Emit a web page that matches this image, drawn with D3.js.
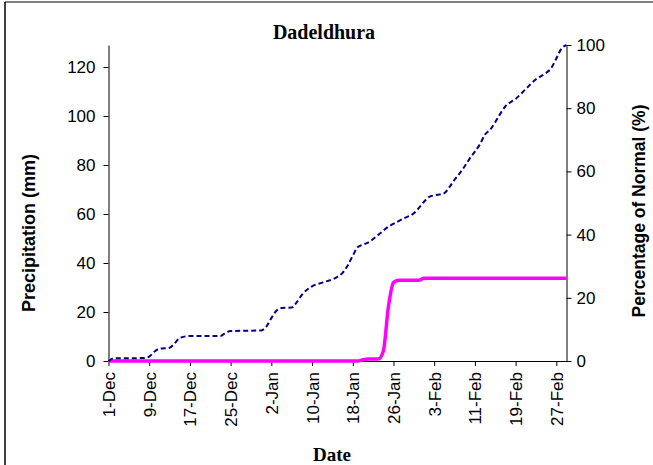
<!DOCTYPE html>
<meta charset="utf-8">
<html>
<head>
<title>Dadeldhura</title>
<script src="https://d3js.org/d3.v7.min.js"></script>
<style>
  body { margin: 0; background: #fff; }
  .tick text { font-family: "Liberation Sans", Arial, sans-serif; font-size: 17px; fill: #000; }
  .domain, .tick line { stroke: #000; }
</style>
</head>
<body>
<script>
// day index 0 = 1-Dec, 90 = 29-Feb
var tickDays = [0, 8, 16, 24, 32, 40, 48, 56, 64, 72, 80, 88];
var tickLabels = ["1-Dec", "9-Dec", "17-Dec", "25-Dec", "2-Jan", "10-Jan", "18-Jan",
                  "26-Jan", "3-Feb", "11-Feb", "19-Feb", "27-Feb"];
var leftTicks = [0, 20, 40, 60, 80, 100, 120];
var rightTicks = [0, 20, 40, 60, 80, 100];

// cumulative normal precipitation (mm)
var normalDays = [0, 1, 7, 8, 9, 10, 12, 13, 14, 16, 22, 23, 24, 30, 31, 32, 33, 34, 36, 37, 38,
                  40, 42, 45, 46, 47, 48, 49, 50, 51, 53, 55, 57, 58, 60, 61, 62, 63, 65, 66, 67,
                  68, 69, 70, 71, 72, 73, 74, 75, 76, 77, 78, 80, 82, 84, 85, 86, 87, 88, 89, 90];
var normalMm = [0, 1.1, 1.2, 1.8, 3.8, 5.0, 5.4, 7.2, 9.4, 10.2, 10.2, 11.5, 12.2, 12.5, 14, 17.5,
                20.5, 21.6, 21.8, 24, 27, 30.5, 32, 34.4, 36, 39, 43, 46.5, 47.5, 48.3, 51.5, 54.8,
                57.1, 58.2, 60.3, 62.5, 65, 67, 68, 68.5, 71, 74, 76.6, 79.5, 82.7, 85.5, 88.5,
                92.5, 94.4, 97.5, 101, 104, 107, 111, 115, 116.3, 117.6, 119.6, 123.5, 127.5, 129];

// cumulative actual precipitation (mm)
var actualDays = [0, 49, 50, 51, 53, 54, 55, 56, 57, 61, 62, 90];
var actualMm = [0, 0, 0.5, 0.8, 0.8, 4, 22, 32, 33, 33, 33.8, 33.8];

var W = 653, H = 465;
var svg = d3.select("body").append("svg").attr("width", W).attr("height", H);

// frame
svg.append("line").attr("x1", 5).attr("x2", W).attr("y1", 2).attr("y2", 2)
  .attr("stroke", "#808080").attr("stroke-width", 2);
svg.append("line").attr("x1", 5).attr("x2", 5).attr("y1", 2).attr("y2", H)
  .attr("stroke", "#000").attr("stroke-width", 1.5);

var x = d3.scaleLinear().domain([0, 90]).range([108.5, 566.5]);
var yL = d3.scaleLinear().domain([0, 129]).range([361, 45]);
var yR = d3.scaleLinear().domain([0, 100]).range([361, 45]);

// left axis
svg.append("g").attr("transform", "translate(108.5,0)")
  .call(d3.axisLeft(yL).tickValues(leftTicks).tickSize(5).tickPadding(8).tickSizeOuter(0));

// right axis
svg.append("g").attr("transform", "translate(566.5,0)")
  .call(d3.axisRight(yR).tickValues(rightTicks).tickSize(5).tickPadding(5).tickSizeOuter(0));

// x axis
var xAxis = svg.append("g").attr("transform", "translate(0,361)")
  .call(d3.axisBottom(x).tickValues(tickDays).tickSize(5).tickSizeOuter(0)
    .tickFormat(function (d, i) { return tickLabels[i]; }));
xAxis.selectAll(".tick text")
  .attr("transform", "rotate(-90)")
  .attr("text-anchor", "end")
  .attr("x", -11).attr("y", 0).attr("dy", "0.35em");

// lines
var normalData = normalDays.map(function (d, i) { return [d, normalMm[i]]; });
var actualData = actualDays.map(function (d, i) { return [d, actualMm[i]]; });

var line = d3.line()
  .x(function (d) { return x(d[0]); })
  .y(function (d) { return yL(d[1]); })
  .curve(d3.curveMonotoneX);

svg.append("path").datum(actualData).attr("d", line)
  .attr("fill", "none").attr("stroke", "#ff00ff").attr("stroke-width", 3.5);

svg.append("path").datum(normalData).attr("d", line)
  .attr("fill", "none").attr("stroke", "#000080").attr("stroke-width", 2)
  .attr("stroke-dasharray", "5,3");

// titles
svg.append("text").attr("x", 324).attr("y", 39).attr("text-anchor", "middle")
  .style("font-family", "Liberation Serif, serif").style("font-weight", "bold")
  .style("font-size", "20px").text("Dadeldhura");

svg.append("text").attr("x", 332).attr("y", 461).attr("text-anchor", "middle")
  .style("font-family", "Liberation Serif, serif").style("font-weight", "bold")
  .style("font-size", "19px").text("Date");

svg.append("text").attr("transform", "translate(35,233) rotate(-90)")
  .attr("text-anchor", "middle")
  .style("font-family", "Liberation Sans, Arial, sans-serif").style("font-weight", "bold")
  .style("font-size", "18px").text("Precipitation (mm)");

svg.append("text").attr("transform", "translate(645,211) rotate(-90)")
  .attr("text-anchor", "middle")
  .style("font-family", "Liberation Sans, Arial, sans-serif").style("font-weight", "bold")
  .style("font-size", "17.5px").text("Percentage of Normal (%)");
</script>
</body>
</html>
